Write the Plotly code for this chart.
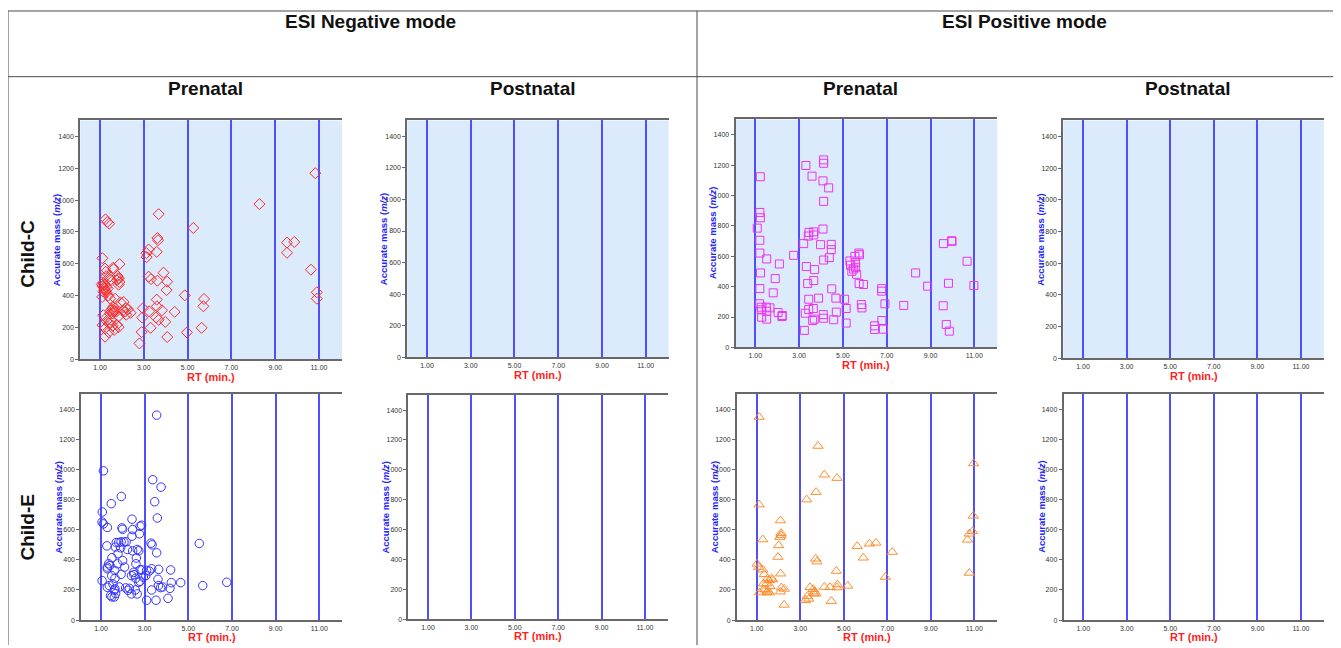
import plotly.graph_objects as go

OFF = 8               # page body margin in the browser
W, H = 1341 - OFF, 648 - OFF

# ---------------- data ----------------
# Child-C, ESI negative, prenatal (red diamonds)
negC_rt = [10.83, 8.28, 3.68, 5.26, 1.25, 1.33, 1.42, 3.62, 3.65, 3.59, 3.22, 3.12, 3.13,
           9.54, 9.87, 9.54, 10.63, 10.9, 10.9, 3.9, 4.07, 4.04, 3.22, 3.33, 3.62,
           4.87, 4.41, 5.75, 5.72, 5.64, 4.97, 3.59, 3.6, 3.83, 3.24, 2.96, 2.93, 3.56, 3.68,
           3.98, 3.31, 2.9, 2.8, 4.07, 2.19, 2.28, 2.4, 1.93,
           1.11, 1.23, 1.26, 1.28, 1.62, 1.6, 1.89, 1.8, 1.86, 1.77, 1.89, 1.85, 1.82,
           1.08, 1.12, 1.15, 1.18, 1.2, 1.22, 1.25, 1.28, 1.3, 1.35, 1.38, 1.15, 1.1,
           1.46, 1.69, 2.08, 1.45, 1.5, 1.6, 1.5, 1.65, 1.58, 1.46, 1.55, 1.62,
           1.15, 1.28, 1.85, 2.06, 2.15, 2.2, 1.75, 1.12, 1.23, 1.43, 1.58, 1.77, 1.85,
           1.23, 1.4, 1.65, 1.3, 1.52]
negC_mz = [1169, 975, 912, 825, 879, 862, 852, 762, 748, 675, 690, 667, 642,
           733, 737, 669, 563, 421, 381, 544, 488, 435, 519, 504, 494,
           402, 298, 379, 333, 198, 169, 375, 333, 308, 302, 321, 262, 262, 248,
           235, 198, 171, 100, 140, 321, 315, 292, 358,
           635, 570, 550, 523, 567, 575, 598, 523, 510, 496, 485, 469, 505,
           470, 460, 480, 450, 440, 470, 430, 455, 420, 445, 400, 425, 392,
           381, 381, 360, 520, 500, 329, 308, 302, 288, 288, 315, 310,
           277, 260, 270, 306, 300, 280, 300, 215, 194, 225, 210, 217, 202,
           142, 170, 185, 240, 245]

# Child-C, ESI positive, prenatal (magenta squares)
posC_rt = [1.23, 1.21, 1.23, 1.09, 1.21, 1.21, 1.52, 1.24, 1.21, 1.2, 1.27, 1.27, 1.29,
           1.5, 1.52, 1.52, 1.67, 1.91, 1.82, 2.1, 2.04, 2.22, 2.23, 2.75,
           3.31, 3.21, 3.45, 3.42, 3.67, 3.67, 3.59, 4.09, 4.12, 4.12, 4.35, 4.12, 4.09,
           3.98, 4.47, 4.47, 4.38, 4.12, 3.33, 3.71, 3.39, 3.67, 4.49, 3.44, 3.89, 4.68,
           5.08, 5.15, 3.65, 3.44, 3.28, 3.62, 3.69, 4.1, 4.12, 4.58, 4.7, 5.15, 3.24,
           5.32, 5.35, 5.41, 5.49, 5.55, 5.58, 5.58, 5.63, 5.73, 5.76, 5.74, 5.94,
           5.84, 5.87, 6.77, 6.77, 6.92, 6.78, 6.45, 6.45, 6.85, 7.78, 8.32, 8.87,
           9.59, 9.97, 9.98, 9.82, 9.58, 9.72, 9.86, 10.67, 10.98]
posC_mz = [1123, 888, 853, 785, 705, 621, 582, 490, 387, 287, 265, 247, 199,
           265, 238, 186, 260, 453, 359, 549, 230, 203, 210, 606,
           1197, 683, 757, 733, 760, 740, 1127, 1096, 1234, 1212, 1050, 961, 779,
           676, 678, 643, 591, 575, 532, 512, 420, 440, 385, 317, 324, 324,
           317, 256, 256, 249, 225, 177, 186, 216, 192, 182, 232, 160, 112,
           569, 541, 501, 516, 599, 560, 527, 481, 621, 610, 420, 414,
           282, 260, 387, 370, 287, 177, 142, 118, 120, 276, 490, 403,
           683, 702, 698, 422, 274, 151, 107, 567, 407]

# Child-E, ESI negative, prenatal (blue circles)
negE_rt = [3.55, 1.11, 3.37, 3.75, 1.93, 3.46, 1.47, 1.06, 3.58, 2.42, 1.05, 1.11, 1.29,
           1.96, 1.99, 2.45, 2.79, 2.86, 2.76, 2.42, 1.27, 1.7, 1.81, 1.92, 2.05, 2.15,
           1.66, 1.9, 2.21, 2.73, 2.66, 2.45, 3.29, 3.34, 3.55, 5.5, 1.78, 1.5, 1.99,
           2.62, 2.6, 1.35, 1.29, 1.41, 1.76, 2.08, 1.63, 1.29, 2.5, 2.79, 2.88, 3.09,
           3.21, 3.32, 3.64, 4.19, 1.92, 1.49, 2.4, 2.51, 2.94, 3.05, 2.59, 1.64, 3.61,
           2.79, 2.73, 1.05, 1.55, 1.29, 1.38, 2.13, 2.3, 2.24, 2.57, 2.66, 2.39, 3.32,
           3.63, 3.73, 3.82, 4.16, 4.22, 4.65, 5.66, 6.76, 4.07, 3.09, 3.52, 1.44, 1.61,
           1.67, 1.5, 1.61, 1.64, 1.84]
negE_mz = [1361, 991, 932, 883, 821, 786, 773, 718, 678, 670, 651, 639, 615,
           612, 603, 601, 623, 630, 573, 557, 493, 515, 515, 520, 518, 520,
           485, 480, 469, 460, 469, 460, 511, 500, 447, 509, 441, 414, 396,
           412, 374, 374, 352, 363, 374, 352, 330, 341, 317, 335, 333, 330,
           326, 341, 337, 333, 304, 295, 295, 302, 286, 295, 278, 278, 271,
           258, 251, 262, 238, 218, 229, 214, 211, 198, 200, 174, 174, 200,
           229, 216, 220, 211, 249, 249, 229, 251, 145, 132, 132, 163, 154,
           176, 154, 198, 207, 220]

# Child-E, ESI positive, prenatal (orange triangles)
posE_rt = [1.11, 1.11, 2.09, 2.12, 2.07, 2.12, 2.01, 1.98, 2.1, 2.13, 2.27, 2.09, 2.26,
           1.28, 1.02, 1.09, 1.28, 1.35, 1.49, 1.58, 1.67, 1.74, 1.31, 1.46, 1.61,
           1.4, 1.52, 1.31, 1.12, 1.46, 1.58, 3.82, 4.11, 4.69, 3.73, 3.3, 3.71, 3.77,
           4.66, 5.62, 6.18, 6.48, 5.9, 7.23, 6.91, 5.18, 4.71, 4.69, 4.11, 4.37, 3.45,
           3.6, 3.66, 3.72, 3.63, 3.33, 3.39, 3.24, 4.43, 10.77, 10.69, 10.92, 10.95,
           10.97, 10.77]
posE_mz = [1348, 767, 661, 577, 551, 564, 496, 419, 308, 216, 207, 189, 101,
           535, 374, 352, 335, 304, 275, 264, 275, 269, 242, 242, 225,
           203, 194, 203, 183, 183, 183, 1156, 965, 943, 850, 800, 407, 388,
           326, 491, 507, 513, 414, 452, 286, 227, 236, 216, 220, 218, 218,
           205, 189, 176, 176, 159, 141, 132, 126, 573, 533, 590, 692,
           1040, 313]

x_ticks = [1, 3, 5, 7, 9, 11]
x_tick_labels = ["1.00", "3.00", "5.00", "7.00", "9.00", "11.00"]
y_ticks = [0, 200, 400, 600, 800, 1000, 1200, 1400]

col_headers = ["ESI Negative mode", "ESI Positive mode"]
sub_headers = ["Prenatal", "Postnatal", "Prenatal", "Postnatal"]
row_labels = ["Child-C", "Child-E"]

# ---------------- layout geometry (screen pixels) ----------------
XR = [0.1, 12.05]
YR = [0, 1500]
# (pixel of x=1, pixel of x=11, top px, bottom px, row)
panels = [
    (100.0, 319.0, 121, 361, 0),
    (427.0, 645.7, 121, 359, 0),
    (755.3, 974.3, 120, 349, 0),
    (1083.0, 1301.0, 121, 360, 0),
    (101.0, 319.3, 396, 623, 1),
    (428.0, 645.0, 397, 622, 1),
    (756.7, 974.3, 396, 623, 1),
    (1083.3, 1301.0, 396, 623, 1),
]


def px(x):
    return (x - OFF) / W


def py(y):
    return 1 - (y - OFF) / H


FONT = "Arial, Liberation Sans, sans-serif"

fig = go.Figure()
layout = dict(width=W, height=H, margin=dict(l=0, r=0, t=0, b=0),
              paper_bgcolor="white", showlegend=False, font=dict(family=FONT))

annotations = []
shapes = []

for i, (p1, p11, yt, yb, row) in enumerate(panels):
    n = i + 1
    sc = (p11 - p1) / 10.0
    left = p1 - (1 - XR[0]) * sc
    right = p11 + (XR[1] - 11) * sc
    xa = "xaxis" if n == 1 else f"xaxis{n}"
    ya = "yaxis" if n == 1 else f"yaxis{n}"
    layout[xa] = dict(domain=[px(left), px(right)], range=XR, anchor=f"y{n}" if n > 1 else "y",
                      tickvals=x_ticks, ticktext=x_tick_labels, showgrid=True,
                      gridcolor="#4f4fff", gridwidth=1.6, zeroline=False,
                      showline=True, linecolor="#686868", linewidth=2, mirror=True,
                      ticks="", tickfont=dict(size=7, color="#333333", family=FONT))
    layout[ya] = dict(domain=[py(yb), py(yt)], range=YR, anchor=f"x{n}" if n > 1 else "x",
                      tickvals=y_ticks, showgrid=False, zeroline=False,
                      showline=True, linecolor="#686868", linewidth=2, mirror=False,
                      ticks="outside", ticklen=3, tickcolor="#686868",
                      tickfont=dict(size=7, color="#333333", family=FONT))
    if row == 0:
        shapes.append(dict(type="rect", xref=f"x{n} domain" if n > 1 else "x domain",
                           yref=f"y{n} domain" if n > 1 else "y domain",
                           x0=0, x1=1, y0=0, y1=1, fillcolor="#dcebfc",
                           line=dict(width=0), layer="below"))
    # axis titles
    annotations.append(dict(x=px(left - 23), y=py((yt + yb) / 2), xref="paper", yref="paper",
                            text="<b>Accurate mass (<i>m/z</i>)</b>", textangle=-90, showarrow=False,
                            font=dict(size=9.5, color="#2424ff", family=FONT),
                            xanchor="center", yanchor="middle"))
    ty = yb + 18 if row == 0 else yb + 17
    annotations.append(dict(x=px((left + right) / 2), y=py(ty), xref="paper", yref="paper",
                            text="<b>RT (min.)</b>", showarrow=False,
                            font=dict(size=11, color="#ff1e1e", family=FONT),
                            xanchor="center", yanchor="middle"))


def add(n, xs, ys, sym, color, size):
    fig.add_trace(go.Scatter(x=xs, y=ys, mode="markers",
                             xaxis="x" if n == 1 else f"x{n}", yaxis="y" if n == 1 else f"y{n}",
                             marker=dict(symbol=sym, size=size, color=color,
                                         line=dict(color=color, width=1)),
                             hoverinfo="x+y"))


add(1, negC_rt, negC_mz, "diamond-open", "#ff2a2a", 8.5)
add(3, posC_rt, posC_mz, "square-open", "#ee33ee", 8)
add(5, negE_rt, negE_mz, "circle-open", "#3535ff", 8.5)
add(7, posE_rt, posE_mz, "triangle-up-open", "#ff8c2e", 9)
# empty panels still need a trace to show axes
for n in (2, 4, 6, 8):
    fig.add_trace(go.Scatter(x=[], y=[], mode="markers", xaxis=f"x{n}", yaxis=f"y{n}"))

# headers
hx = [370, 1025]
for t, x in zip(col_headers, hx):
    annotations.append(dict(x=px(x), y=py(22), xref="paper", yref="paper", text=f"<b>{t}</b>",
                            showarrow=False, font=dict(size=19, color="#111111", family=FONT),
                            xanchor="center", yanchor="middle"))
sx = [205, 533, 860, 1188]
for t, x in zip(sub_headers, sx):
    annotations.append(dict(x=px(x), y=py(89), xref="paper", yref="paper", text=f"<b>{t}</b>",
                            showarrow=False, font=dict(size=19, color="#111111", family=FONT),
                            xanchor="center", yanchor="middle"))
ry = [255, 530]
for t, y in zip(row_labels, ry):
    annotations.append(dict(x=px(28), y=py(y), xref="paper", yref="paper", text=f"<b>{t}</b>",
                            showarrow=False, textangle=-90,
                            font=dict(size=19, color="#111111", family=FONT),
                            xanchor="center", yanchor="middle"))

# table lines
line_style = dict(color="#4a4a4a", width=1)
for y in (11, 77):
    shapes.append(dict(type="line", xref="paper", yref="paper", x0=px(8), x1=1, y0=py(y), y1=py(y),
                       line=line_style))
for x in (8, 697):
    shapes.append(dict(type="line", xref="paper", yref="paper", x0=px(x), x1=px(x), y0=0, y1=py(11),
                       line=line_style))

layout["annotations"] = annotations
layout["shapes"] = shapes
layout["plot_bgcolor"] = "white"
fig.update_layout(**layout)
fig.write_html("out.html")
